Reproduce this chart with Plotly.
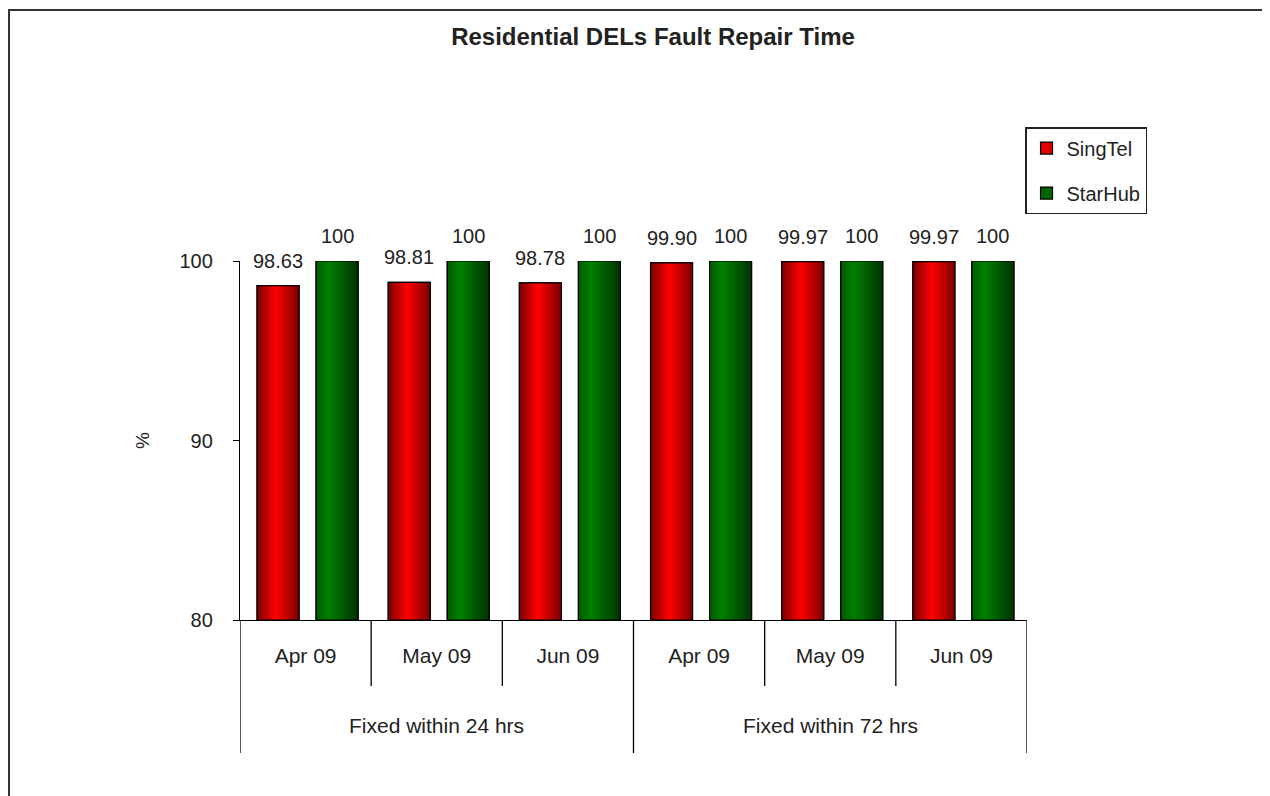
import plotly.graph_objects as go

# data
months = ['Apr 09', 'May 09', 'Jun 09', 'Apr 09', 'May 09', 'Jun 09']
groups = ['Fixed within 24 hrs', 'Fixed within 72 hrs']
group_size = 3
singtel = [98.63, 98.81, 98.78, 99.90, 99.97, 99.97]
starhub = [100, 100, 100, 100, 100, 100]

font = 'Liberation Sans, Arial, sans-serif'
txt = '#222222'
base = 80
bar_w = 0.32
series = [
    # name, values, offset, flat colour, gradient, label format
    ('SingTel', singtel, -0.37, '#e00000',
     [[0, '#7a0000'], [0.45, '#ff0000'], [1, '#7a0000']], '{:.2f}'),
    ('StarHub', starhub, 0.08, '#006400',
     [[0, '#005a00'], [0.3, '#008000'], [1, '#003200']], '{:.0f}'),
]

xs = list(range(len(months)))
fig = go.Figure()

for name, vals, off, col, grad, fmt in series:
    fig.add_trace(go.Bar(
        x=xs, y=[v - base for v in vals], base=base, name=name,
        offset=off, width=bar_w, legendgroup=name,
        marker=dict(color=col, line=dict(color='black', width=1.2)),
        hoverinfo='skip',
    ))

# cylinder-like shading on each bar
for name, vals, off, col, grad, fmt in series:
    for i, v in zip(xs, vals):
        x0 = i + off
        x1 = x0 + bar_w
        fig.add_trace(go.Scatter(
            x=[x0, x0, x1, x1, x0], y=[base, v, v, base, base],
            mode='lines', fill='toself',
            fillgradient=dict(type='horizontal', colorscale=grad),
            line=dict(color='black', width=1.2),
            showlegend=False, hoverinfo='skip', legendgroup=name,
        ))
        fig.add_annotation(
            x=x0 + bar_w / 2, y=v, xref='x', yref='y', text=fmt.format(v),
            showarrow=False, yanchor='middle', yshift=25,
            font=dict(family=font, size=20, color=txt),
        )

# category dividers below the axis
for k in range(1, len(months)):
    deep = k % group_size == 0
    fig.add_shape(type='line', xref='x', yref='paper', x0=k - 0.5, x1=k - 0.5,
                  y0=0, y1=-0.3705 if deep else -0.1838,
                  line=dict(color='black', width=1.3))
for edge in (-0.5, len(months) - 0.5):
    fig.add_shape(type='line', xref='x', yref='paper', x0=edge, x1=edge,
                  y0=0, y1=-0.3705, line=dict(color='black', width=1.3))

for g, label in enumerate(groups):
    fig.add_annotation(
        x=g * group_size + (group_size - 1) / 2, y=-0.2925, xref='x', yref='paper',
        text=label, showarrow=False, yanchor='middle',
        font=dict(family=font, size=21, color=txt),
    )

# outer frame of the chart
fig.add_shape(type='rect', xref='paper', yref='paper', x0=-0.2935, x1=1.4,
              y0=-0.6, y1=1.699, line=dict(color='#333333', width=2))

fig.update_layout(
    width=1262, height=788,
    margin=dict(l=232, r=243, t=253, b=176),
    paper_bgcolor='white', plot_bgcolor='white',
    barmode='overlay',
    font=dict(family=font, color=txt),
    title=dict(text='<b>Residential DELs Fault Repair Time</b>',
               x=(653 - 8) / 1262, xanchor='center', y=1 - 29 / 788, yanchor='middle',
               font=dict(family=font, size=24, color=txt)),
    legend=dict(x=0.9975, xanchor='left', y=1.373, yanchor='top',
                bordercolor='#222222', borderwidth=1.5, bgcolor='white',
                traceorder='grouped', tracegroupgap=16,
                font=dict(family=font, size=20, color=txt)),
    xaxis=dict(range=[-0.5, len(months) - 0.5], tickvals=xs, ticktext=months,
               ticks='', showgrid=False, zeroline=False, showline=True,
               linecolor='black', linewidth=1.3, ticklabelstandoff=17,
               tickfont=dict(family=font, size=21, color=txt)),
    yaxis=dict(range=[80, 100], tickvals=[80, 90, 100], ticks='outside',
               ticklen=6, tickcolor='black', showgrid=False, zeroline=False,
               showline=True, linecolor='black', linewidth=1.3,
               ticklabelstandoff=16,
               tickfont=dict(family=font, size=20, color=txt)),
)
fig.update_yaxes(title=dict(text='%', standoff=24,
                            font=dict(family=font, size=19, color=txt)))

fig.write_html('out.html')
